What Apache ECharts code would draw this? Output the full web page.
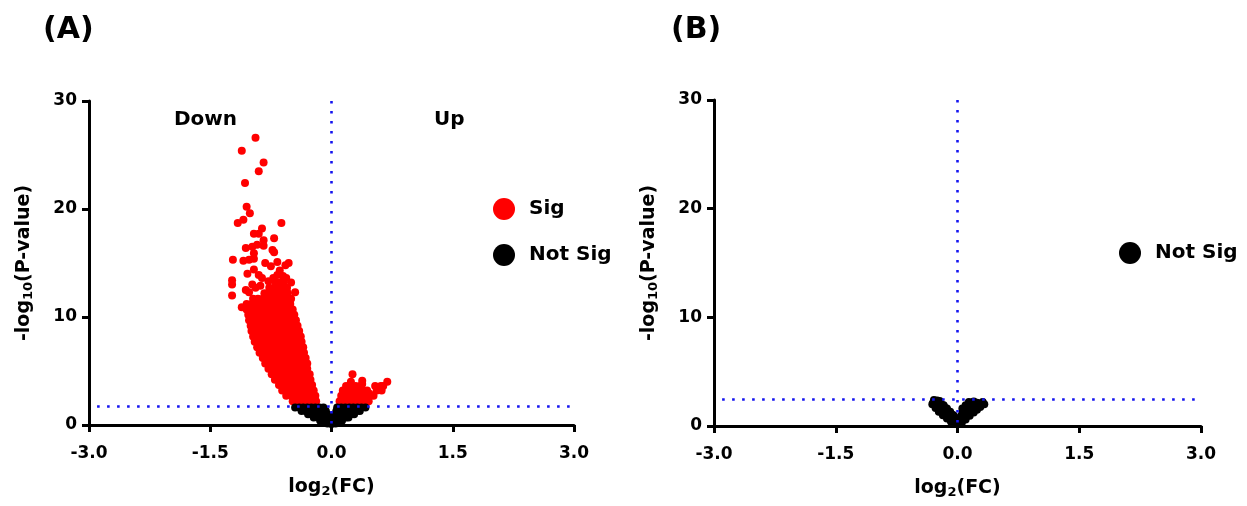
<!DOCTYPE html>
<html><head><meta charset="utf-8">
<script src="https://cdn.jsdelivr.net/npm/echarts@6/dist/echarts.min.js"></script>
<style>html,body{margin:0;padding:0;background:#fff}#c{width:1247px;height:506px}</style>
</head><body><div id="c"></div>
<script>
// ---- tick values ----
const xTicks = [-3.0, -1.5, 0.0, 1.5, 3.0];
const yTicks = [0, 10, 20, 30];
const panelLabels = ['(A)', '(B)'];
const thresholdA = 1.75;   // horizontal cut-off line, panel A
const thresholdB = 2.45;   // horizontal cut-off line, panel B

// ---- Panel A: significant (red) points ----
const sigDownOutliers = [
  [-0.94,26.6],[-1.11,25.4],[-0.84,24.3],[-0.90,23.5],[-1.07,22.4],[-1.05,20.2],[-1.01,19.6],
  [-1.09,19.0],[-1.16,18.7],[-0.62,18.7],[-0.86,18.2],[-0.96,17.7],[-0.90,17.7],[-0.71,17.3],
  [-0.84,17.1],[-1.06,16.4],[-0.98,16.5],[-0.92,16.7],[-0.84,16.6],[-0.71,16.0],[-0.73,16.2],
  [-0.96,15.9],[-1.22,15.3],[-1.09,15.2],[-1.02,15.3],[-0.96,15.4],[-0.82,15.0],[-0.67,15.1],
  [-0.53,15.0],[-0.57,14.8],[-0.75,14.7],[-1.04,14.0],[-0.96,14.4],[-1.23,13.4],[-1.23,13.0],
  [-1.23,12.0],[-0.90,13.9],[-0.86,13.6],[-0.67,13.9],[-1.06,12.5],[-0.98,13.0],[-0.45,12.3],
  [-1.11,10.9],[-0.64,14.3],[-0.60,13.8],[-0.78,13.3],[-0.72,13.6],[-0.88,12.9],[-0.94,12.7],
  [-1.02,12.3],[-0.50,13.2],[-0.56,13.6]
];
const sigDownMass = [
  [-0.48,2.2],[-0.42,2.2],[-0.36,2.2],[-0.30,2.2],[-0.24,2.2],[-0.19,2.2],
  [-0.56,2.7],[-0.50,2.7],[-0.44,2.7],[-0.38,2.7],[-0.32,2.7],[-0.26,2.7],[-0.20,2.7],
  [-0.61,3.2],[-0.55,3.2],[-0.49,3.2],[-0.43,3.2],[-0.37,3.2],[-0.31,3.2],[-0.26,3.2],[-0.22,3.2],
  [-0.65,3.7],[-0.59,3.7],[-0.53,3.7],[-0.47,3.7],[-0.41,3.7],[-0.35,3.7],[-0.29,3.7],[-0.24,3.7],
  [-0.70,4.2],[-0.64,4.2],[-0.58,4.2],[-0.52,4.2],[-0.46,4.2],[-0.40,4.2],[-0.34,4.2],[-0.29,4.2],[-0.26,4.2],
  [-0.74,4.7],[-0.68,4.7],[-0.62,4.7],[-0.56,4.7],[-0.50,4.7],[-0.44,4.7],[-0.38,4.7],[-0.32,4.7],[-0.27,4.7],
  [-0.78,5.2],[-0.72,5.2],[-0.66,5.2],[-0.60,5.2],[-0.54,5.2],[-0.48,5.2],[-0.42,5.2],[-0.36,5.2],[-0.30,5.2],
  [-0.82,5.7],[-0.76,5.7],[-0.70,5.7],[-0.64,5.7],[-0.58,5.7],[-0.52,5.7],[-0.46,5.7],[-0.40,5.7],[-0.34,5.7],[-0.30,5.7],
  [-0.85,6.2],[-0.79,6.2],[-0.73,6.2],[-0.67,6.2],[-0.61,6.2],[-0.55,6.2],[-0.49,6.2],[-0.43,6.2],[-0.37,6.2],[-0.32,6.2],
  [-0.89,6.7],[-0.83,6.7],[-0.77,6.7],[-0.71,6.7],[-0.65,6.7],[-0.59,6.7],[-0.53,6.7],[-0.47,6.7],[-0.41,6.7],[-0.34,6.7],
  [-0.92,7.2],[-0.86,7.2],[-0.80,7.2],[-0.74,7.2],[-0.68,7.2],[-0.62,7.2],[-0.56,7.2],[-0.50,7.2],[-0.44,7.2],[-0.38,7.2],[-0.35,7.2],
  [-0.95,7.7],[-0.89,7.7],[-0.83,7.7],[-0.77,7.7],[-0.71,7.7],[-0.65,7.7],[-0.59,7.7],[-0.53,7.7],[-0.47,7.7],[-0.41,7.7],[-0.37,7.7],
  [-0.97,8.2],[-0.91,8.2],[-0.85,8.2],[-0.79,8.2],[-0.73,8.2],[-0.67,8.2],[-0.61,8.2],[-0.55,8.2],[-0.49,8.2],[-0.43,8.2],[-0.38,8.2],
  [-0.99,8.7],[-0.93,8.7],[-0.87,8.7],[-0.81,8.7],[-0.75,8.7],[-0.69,8.7],[-0.63,8.7],[-0.57,8.7],[-0.51,8.7],[-0.45,8.7],[-0.40,8.7],
  [-1.00,9.2],[-0.94,9.2],[-0.88,9.2],[-0.82,9.2],[-0.76,9.2],[-0.70,9.2],[-0.64,9.2],[-0.58,9.2],[-0.52,9.2],[-0.46,9.2],[-0.42,9.2],
  [-1.02,9.7],[-0.96,9.7],[-0.90,9.7],[-0.84,9.7],[-0.78,9.7],[-0.72,9.7],[-0.66,9.7],[-0.60,9.7],[-0.54,9.7],[-0.48,9.7],[-0.44,9.7],
  [-1.03,10.2],[-0.97,10.2],[-0.91,10.2],[-0.85,10.2],[-0.79,10.2],[-0.73,10.2],[-0.67,10.2],[-0.61,10.2],[-0.55,10.2],[-0.50,10.2],[-0.46,10.2],
  [-1.05,10.7],[-0.99,10.7],[-0.93,10.7],[-0.87,10.7],[-0.81,10.7],[-0.75,10.7],[-0.69,10.7],[-0.63,10.7],[-0.57,10.7],[-0.52,10.7],[-0.48,10.7],
  [-1.05,11.2],[-0.99,11.2],[-0.93,11.2],[-0.87,11.2],[-0.81,11.2],[-0.75,11.2],[-0.69,11.2],[-0.63,11.2],[-0.57,11.2],[-0.51,11.2],
  [-0.97,11.7],[-0.91,11.7],[-0.85,11.7],[-0.79,11.7],[-0.73,11.7],[-0.67,11.7],[-0.61,11.7],[-0.55,11.7],[-0.50,11.7],
  [-0.83,12.2],[-0.77,12.2],[-0.71,12.2],[-0.65,12.2],[-0.59,12.2],[-0.54,12.2],
  [-0.77,12.7],[-0.71,12.7],[-0.65,12.7],[-0.59,12.7],[-0.55,12.7],
  [-0.69,13.2],[-0.64,13.2],[-0.59,13.2]
];
const sigUp = [
  [0.10,2.2],[0.16,2.2],[0.22,2.2],[0.28,2.2],[0.34,2.2],[0.40,2.2],[0.46,2.2],
  [0.12,2.7],[0.18,2.7],[0.24,2.7],[0.30,2.7],[0.36,2.7],[0.42,2.7],[0.48,2.7],[0.52,2.7],
  [0.14,3.2],[0.20,3.2],[0.26,3.2],[0.32,3.2],[0.38,3.2],[0.44,3.2],[0.56,3.2],[0.62,3.2],
  [0.18,3.6],[0.24,3.6],[0.30,3.6],[0.36,3.6],[0.54,3.6],[0.61,3.6],
  [0.26,4.7],[0.38,4.1],[0.69,4.0],[0.24,4.0],[0.38,3.8],[0.57,3.5],[0.64,3.6],[0.47,2.9]
];
// ---- Panel A: not significant (black) points ----
const notSigA = [
  [-0.45,1.62],[-0.40,1.62],[-0.35,1.62],[-0.30,1.62],[-0.25,1.62],[-0.20,1.62],[-0.15,1.62],[-0.10,1.62],
  [0.07,1.62],[0.12,1.62],[0.17,1.62],[0.22,1.62],[0.27,1.62],[0.32,1.62],[0.37,1.62],[0.42,1.62],
  [-0.37,1.3],[-0.32,1.3],[-0.27,1.3],[-0.22,1.3],[-0.17,1.3],[-0.12,1.3],[-0.07,1.3],
  [0.06,1.3],[0.11,1.3],[0.16,1.3],[0.21,1.3],[0.26,1.3],[0.31,1.3],[0.35,1.3],
  [-0.29,1.0],[-0.24,1.0],[-0.19,1.0],[-0.14,1.0],[-0.09,1.0],[-0.05,1.0],
  [0.04,1.0],[0.09,1.0],[0.14,1.0],[0.19,1.0],[0.24,1.0],[0.28,1.0],
  [-0.22,0.7],[-0.17,0.7],[-0.12,0.7],[-0.07,0.7],[-0.03,0.7],
  [0.03,0.7],[0.08,0.7],[0.13,0.7],[0.18,0.7],[0.21,0.7],
  [-0.14,0.4],[-0.09,0.4],[-0.04,0.4],[0.04,0.4],[0.09,0.4],[0.13,0.4],
  [-0.05,0.15],[0.00,0.1],[0.05,0.15]
];
// ---- Panel B: not significant (black) points ----
const notSigB = [
  [-0.29,2.4],[-0.25,2.35],[-0.22,2.3],[-0.30,2.15],[-0.26,2.1],[-0.22,2.0],[-0.19,1.95],[-0.31,2.0],
  [-0.26,1.85],[-0.23,1.75],[-0.18,1.7],[-0.15,1.65],[-0.17,1.9],[-0.27,1.65],
  [-0.21,1.5],[-0.19,1.45],[-0.14,1.4],[-0.11,1.35],[-0.13,1.6],[-0.23,1.3],
  [-0.17,1.2],[-0.15,1.15],[-0.10,1.1],[-0.07,1.05],[-0.09,1.3],[-0.18,1.0],
  [-0.13,0.9],[-0.11,0.85],[-0.06,0.8],[-0.04,0.75],[-0.05,1.0],[-0.13,0.7],
  [-0.09,0.6],[-0.07,0.55],[-0.03,0.5],[-0.02,0.65],[-0.08,0.4],
  [-0.05,0.35],[-0.03,0.3],[0.00,0.15],
  [0.02,0.25],[0.05,0.35],[0.04,0.55],[0.08,0.6],[0.07,0.8],[0.04,0.9],[0.11,0.9],
  [0.10,1.1],[0.06,1.2],[0.14,1.15],[0.13,1.35],[0.08,1.5],[0.17,1.35],[0.17,1.55],
  [0.12,1.7],[0.21,1.6],[0.21,1.75],[0.15,1.95],[0.25,1.8],[0.25,1.95],[0.19,2.05],
  [0.29,1.9],[0.29,2.05],[0.24,2.15],[0.31,2.2],
  [0.33,2.0],[0.28,1.75],[0.24,1.5],[0.20,1.25],[0.15,0.95],[0.10,0.6],[0.05,0.2],
  [0.10,1.9],[0.14,2.2],[0.20,2.25],[0.06,1.6]
];

const FF = '"DejaVu Sans", sans-serif';
const sigA = sigDownOutliers.concat(sigDownMass, sigUp);

function nameRich() {
  return {
    a: {fontFamily: FF, fontWeight: 'bold', fontSize: 19, color: '#000', lineHeight: 22},
    s: {fontFamily: FF, fontWeight: 'bold', fontSize: 13, color: '#000', lineHeight: 14, verticalAlign: 'bottom'}
  };
}
function xAxisCfg(i) {
  return {
    type: 'value', gridIndex: i, min: xTicks[0], max: xTicks[xTicks.length - 1], interval: 1.5,
    name: '{a|log}{s|2}{a|(FC)}', nameLocation: 'middle', nameGap: 51,
    nameTextStyle: {rich: nameRich()},
    axisLine: {onZero: false, lineStyle: {color: '#000', width: 3}},
    axisTick: {length: 7, lineStyle: {color: '#000', width: 3}},
    axisLabel: {margin: 20, color: '#000', fontFamily: FF, fontWeight: 'bold', fontSize: 17,
      showMinLabel: true, showMaxLabel: true, formatter: v => v.toFixed(1)},
    splitLine: {show: false}
  };
}
function yAxisCfg(i) {
  return {
    type: 'value', gridIndex: i, min: yTicks[0], max: yTicks[yTicks.length - 1], interval: 10,
    name: '{a|-log}{s|10}{a|(P-value)}', nameLocation: 'middle', nameGap: 54,
    nameTextStyle: {rich: nameRich()},
    axisLine: {show: true, onZero: false, lineStyle: {color: '#000', width: 3}},
    axisTick: {show: true, length: 7, lineStyle: {color: '#000', width: 3}},
    axisLabel: {margin: 12, color: '#000', fontFamily: FF, fontWeight: 'bold', fontSize: 17},
    splitLine: {show: false}
  };
}
function guides(th) {
  return {
    silent: true, symbol: 'none', animation: false, z: 20,
    label: {show: false},
    lineStyle: {color: '#1414f0', width: 2.6, type: [2.6, 7.4], cap: 'butt', opacity: 1},
    emphasis: {disabled: true},
    data: [
      [{coord: [0, 30]}, {coord: [0, 0]}],
      [{coord: [-2.9, th]}, {coord: [3.0, th]}]
    ]
  };
}
const legendText = {fontFamily: FF, fontWeight: 'bold', fontSize: 20, color: '#000', padding: [0, 0, 0, 9]};

const chart = echarts.init(document.getElementById('c'), null, {renderer: 'canvas'});
chart.setOption({
  animation: false,
  backgroundColor: '#fff',
  grid: [
    {left: 89, width: 485, top: 101, height: 324},
    {left: 714, width: 487, top: 100, height: 326}
  ],
  xAxis: [xAxisCfg(0), xAxisCfg(1)],
  yAxis: [yAxisCfg(0), yAxisCfg(1)],
  legend: [
    {orient: 'vertical', left: 488, top: 193, itemWidth: 22, itemHeight: 22, itemGap: 24, icon: 'circle',
     data: ['Sig', 'Not Sig'], textStyle: legendText, selectedMode: false},
    {orient: 'vertical', left: 1114, top: 237, itemWidth: 22, itemHeight: 22, icon: 'circle',
     data: ['Not Sig'], textStyle: legendText, selectedMode: false}
  ],
  graphic: [
    {type: 'text', left: 43, top: 15, style: {text: panelLabels[0], fill: '#000', font: 'bold 30px "DejaVu Sans"'}},
    {type: 'text', left: 671, top: 15, style: {text: panelLabels[1], fill: '#000', font: 'bold 30px "DejaVu Sans"'}},
    {type: 'text', left: 174, top: 110, style: {text: 'Down', fill: '#000', font: 'bold 20px "DejaVu Sans"'}},
    {type: 'text', left: 434, top: 110, style: {text: 'Up', fill: '#000', font: 'bold 20px "DejaVu Sans"'}}
  ],
  series: [
    {type: 'scatter', name: 'Sig', xAxisIndex: 0, yAxisIndex: 0, data: sigA, symbolSize: 8,
     itemStyle: {color: '#ff0000', opacity: 1}, emphasis: {disabled: true}},
    {type: 'scatter', name: 'Not Sig', xAxisIndex: 0, yAxisIndex: 0, data: notSigA, symbolSize: 8,
     itemStyle: {color: '#000000', opacity: 1}, emphasis: {disabled: true}, markLine: guides(thresholdA)},
    {type: 'scatter', name: 'Not Sig', xAxisIndex: 1, yAxisIndex: 1, data: notSigB, symbolSize: 8,
     itemStyle: {color: '#000000', opacity: 1}, emphasis: {disabled: true}, markLine: guides(thresholdB)}
  ]
});
</script>
</body></html>
